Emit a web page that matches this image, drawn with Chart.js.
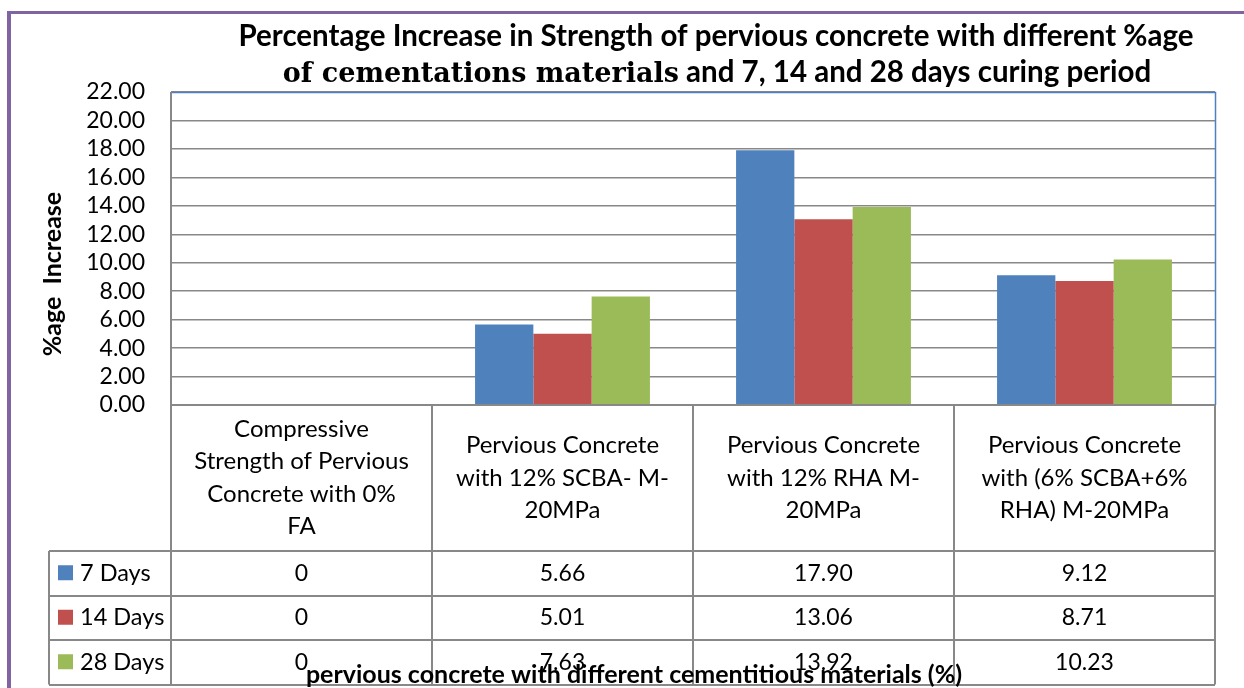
<!DOCTYPE html>
<html>
<head>
<meta charset="utf-8">
<script src="https://cdn.jsdelivr.net/npm/chart.js@4.4.1/dist/chart.umd.min.js"></script>
<style>
  html, body { margin: 0; padding: 0; background: #fff; }
  #wrap { width: 1244px; height: 688px; position: relative; }
</style>
</head>
<body>
<div id="wrap"><canvas id="myChart" width="1244" height="688"></canvas></div>
<script>
const categories = [
  ["Compressive", "Strength of Pervious", "Concrete with 0%", "FA"],
  ["Pervious Concrete", "with 12% SCBA- M-", "20MPa"],
  ["Pervious Concrete", "with 12% RHA M-", "20MPa"],
  ["Pervious Concrete", "with (6% SCBA+6%", "RHA) M-20MPa"],
];
const seriesNames = ["7 Days", "14 Days", "28 Days"];
const days7 = [0, 5.66, 17.9, 9.12];
const days14 = [0, 5.01, 13.06, 8.71];
const days28 = [0, 7.63, 13.92, 10.23];
const yTicks = { min: 0, max: 22, step: 2 };

const titleLine1 = "Percentage Increase in Strength of pervious concrete with different %age";
const titleLine2Serif = "of cementations materials";
const titleLine2Sans = " and 7, 14 and 28 days curing period";
const yTitle = "%age  Increase";
const xTitle = "pervious concrete with different cementitious materials (%)";

const colors = ["#4F81BD", "#C0504D", "#9BBB59"];
const SANS = "Lato, 'Open Sans', sans-serif";
const SERIF = "'DejaVu Serif', 'Liberation Serif', serif";
const GRID = "#888888";

// table geometry (below the plot area)
const legendLeft = 49;
const catRowH = 146;
const rowH = 44.5;

const fmt = (v) => (v === 0 ? "0" : v.toFixed(2));

const tablePlugin = {
  id: "tablePlugin",
  afterDraw(chart) {
    const ctx = chart.ctx;
    const area = chart.chartArea;
    const x = chart.scales.x;
    const n = categories.length;
    const colW = (area.right - area.left) / n;
    const top = area.bottom;
    const rowsTop = top + catRowH;
    const bottom = rowsTop + rowH * seriesNames.length;

    ctx.save();

    // purple frame
    ctx.fillStyle = "#8064A2";
    ctx.fillRect(7, 11, 1244 - 7, 3);
    ctx.fillRect(7, 11, 4, 688 - 11);

    // blue plot frame (top and right)
    ctx.strokeStyle = "#4F81BD";
    ctx.lineWidth = 1.5;
    ctx.beginPath();
    ctx.moveTo(area.left, area.top + 0.5);
    ctx.lineTo(area.right + 0.5, area.top + 0.5);
    ctx.lineTo(area.right + 0.5, area.bottom);
    ctx.stroke();

    // table lines
    ctx.strokeStyle = GRID;
    ctx.lineWidth = 2;
    ctx.beginPath();
    ctx.moveTo(area.left, area.top);
    ctx.lineTo(area.left, bottom);
    for (let i = 1; i <= n; i++) {
      const lx = Math.round(area.left + colW * i);
      ctx.moveTo(lx, top);
      ctx.lineTo(lx, bottom);
    }
    ctx.moveTo(legendLeft, rowsTop);
    ctx.lineTo(legendLeft, bottom);
    for (let r = 0; r <= seriesNames.length; r++) {
      const ly = Math.round(rowsTop + rowH * r);
      ctx.moveTo(legendLeft, ly);
      ctx.lineTo(area.right, ly);
    }
    ctx.moveTo(area.left, top);
    ctx.lineTo(area.right, top);
    ctx.stroke();

    // category labels
    ctx.fillStyle = "#000";
    ctx.font = "24px " + SANS;
    ctx.textAlign = "center";
    ctx.textBaseline = "middle";
    const lh = 32.5;
    categories.forEach((lines, i) => {
      const cx = x.getPixelForValue(i);
      const cy = top + catRowH / 2;
      lines.forEach((t, k) => {
        ctx.fillText(t, cx, cy + (k - (lines.length - 1) / 2) * lh);
      });
    });

    // data rows
    const series = [days7, days14, days28];
    series.forEach((vals, r) => {
      const cy = rowsTop + rowH * r + rowH / 2;
      ctx.font = "23px " + SANS;
      ctx.textAlign = "center";
      vals.forEach((v, i) => {
        ctx.fillText(fmt(v), x.getPixelForValue(i), cy);
      });
      ctx.fillStyle = colors[r];
      ctx.fillRect(58, cy - 8, 15, 15);
      ctx.fillStyle = "#000";
      ctx.textAlign = "left";
      ctx.font = "23.5px " + SANS;
      ctx.fillText(seriesNames[r], 80, cy);
    });

    // axis titles
    ctx.font = "bold 25px " + SANS;
    ctx.textAlign = "center";
    ctx.textBaseline = "alphabetic";
    ctx.fillText(xTitle, 634, 683);

    ctx.save();
    ctx.translate(61, 274);
    ctx.rotate(-Math.PI / 2);
    ctx.fillText(yTitle, 0, 0);
    ctx.restore();

    // chart title
    ctx.font = "bold 29.5px " + SANS;
    ctx.textAlign = "center";
    ctx.fillText(titleLine1, 716, 46);

    ctx.textAlign = "left";
    ctx.font = "bold 27px " + SERIF;
    const w1 = ctx.measureText(titleLine2Serif).width;
    ctx.font = "bold 29.5px " + SANS;
    const w2 = ctx.measureText(titleLine2Sans).width;
    const startX = 717 - (w1 + w2) / 2;
    ctx.font = "bold 27px " + SERIF;
    ctx.fillText(titleLine2Serif, startX, 82);
    ctx.font = "bold 29.5px " + SANS;
    ctx.fillText(titleLine2Sans, startX + w1, 82);

    ctx.restore();
  },
};

new Chart(document.getElementById("myChart"), {
  type: "bar",
  data: {
    labels: categories,
    datasets: [
      { label: seriesNames[0], data: days7, backgroundColor: colors[0] },
      { label: seriesNames[1], data: days14, backgroundColor: colors[1] },
      { label: seriesNames[2], data: days28, backgroundColor: colors[2] },
    ],
  },
  options: {
    responsive: false,
    animation: false,
    devicePixelRatio: 1,
    layout: { padding: { left: 0, top: 92, right: 29, bottom: 283 } },
    datasets: {
      bar: { barPercentage: 1, categoryPercentage: 0.67, borderWidth: 0 },
    },
    plugins: {
      legend: { display: false },
      title: { display: false },
      tooltip: { enabled: false },
    },
    scales: {
      x: {
        afterFit(scale) {
          scale.height = 0;
        },
        ticks: { display: false },
        grid: { display: false },
        border: { display: false },
      },
      y: {
        min: yTicks.min,
        max: yTicks.max,
        afterFit(scale) {
          scale.width = 171;
        },
        ticks: {
          stepSize: yTicks.step,
          autoSkip: false,
          padding: 26,
          color: "#000",
          font: { family: SANS, size: 23 },
          callback: (v) => Number(v).toFixed(2),
        },
        grid: { color: GRID, lineWidth: 1.5, drawTicks: false },
        border: { display: false },
      },
    },
  },
  plugins: [tablePlugin],
});
</script>
</body>
</html>
